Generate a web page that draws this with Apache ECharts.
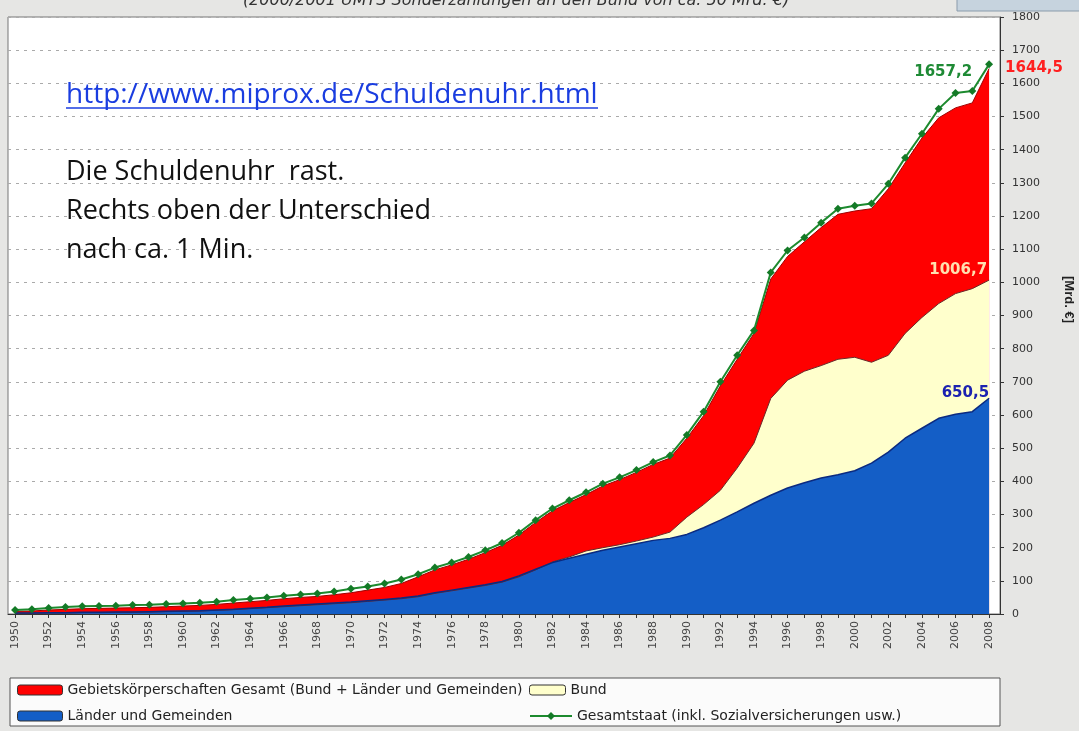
<!DOCTYPE html>
<html>
<head>
<meta charset="UTF-8">
<title>Schuldenuhr</title>
<script src="https://cdn.jsdelivr.net/npm/echarts@6/dist/echarts.min.js"></script>
<style>
  html, body { margin: 0; padding: 0; background: #e6e6e4; }
  #chart { width: 1079px; height: 731px; }
</style>
</head>
<body>
<div id="chart"></div>
<script type="text/javascript">
    // Jahre 1950 - 2008
    var years = [];
    for (var y = 1950; y <= 2008; y++) { years.push(y); }
    var labelYears = years.filter(function (y) { return y % 2 === 0; });

    // Gesamtstaat (inkl. Sozialversicherungen), Mrd. €
    var gesamtstaat = [12, 14, 18, 21, 23, 24, 25, 27, 28, 30,
        32, 34, 37, 42, 46, 50, 55, 59, 62, 68,
        76, 83, 92, 104, 120, 140, 155, 172, 192, 214,
        245, 283, 318, 343, 367, 393, 412, 434, 458, 478,
        540, 610, 700, 780, 855, 1030, 1096, 1135, 1180, 1222,
        1231, 1238, 1297, 1376, 1448, 1523, 1571, 1577, 1657.2];

    // Gebietskörperschaften Gesamt (Bund + Länder und Gemeinden)
    var gebiet = [8, 9, 12, 14, 16, 17, 18, 19, 20, 22,
        24, 26, 29, 33, 37, 41, 46, 50, 53, 58,
        64, 72, 80, 92, 112, 133, 148, 165, 185, 207,
        238, 276, 311, 336, 360, 386, 405, 427, 451, 470,
        530, 598, 688, 768, 846, 1010, 1078, 1122, 1165, 1205,
        1215, 1222, 1282, 1360, 1435, 1496, 1526, 1541, 1644.5];

    // Bund
    var bund = [2, 2, 3, 3, 4, 4, 5, 5, 6, 7,
        8, 9, 11, 13, 16, 19, 22, 25, 28, 31,
        34, 38, 42, 46, 52, 62, 70, 78, 86, 96,
        112, 133, 157, 172, 190, 200, 209, 220, 232, 247,
        292, 330, 373, 440, 515, 650, 705, 732, 749, 768,
        774, 759, 780, 846, 894, 936, 966, 981, 1006.7];

    // Länder und Gemeinden
    var laender = [3, 3, 4, 4, 5, 5, 6, 6, 7, 8,
        9, 10, 12, 14, 17, 20, 24, 27, 30, 33,
        36, 40, 44, 48, 54, 64, 72, 80, 88, 98,
        115, 135, 155, 168, 180, 192, 202, 212, 222, 228,
        240, 260, 283, 308, 334, 358, 380, 396, 410, 420,
        432, 455, 488, 530, 560, 590, 602, 610, 650.5];

    var nGebiet = 'Gebietskörperschaften Gesamt (Bund + Länder und Gemeinden)';
    var nBund = 'Bund';
    var nLaender = 'Länder und Gemeinden';
    var nGesamt = 'Gesamtstaat (inkl. Sozialversicherungen usw.)';

    function pairs(arr) {
        return years.map(function (y, i) { return [y, arr[i]]; });
    }
    function komma(p) {
        return String(p.value[1]).replace('.', ',');
    }
    function plain(v) { return String(v); }
    function endLbl(color, align, offset) {
        return {
            show: true, formatter: komma, color: color, fontWeight: 'bold',
            fontSize: 15, fontFamily: 'DejaVu Sans', align: align,
            distance: 0, offset: offset
        };
    }

    var legendText = { fontSize: 14, color: '#222', fontFamily: 'DejaVu Sans' };

    var option = {
        backgroundColor: '#e6e6e4',
        animation: false,
        textStyle: { fontFamily: 'Liberation Sans' },
        grid: {
            show: true, left: 8, top: 17, right: 79, bottom: 117,
            outerBoundsMode: 'none', containLabel: false,
            backgroundColor: '#ffffff', borderColor: '#777', borderWidth: 1
        },
        legend: [
            { data: [nGebiet], left: 17, top: 683, padding: 0, itemWidth: 45, itemHeight: 10,
              icon: 'roundRect', itemStyle: { borderColor: '#333', borderWidth: 1 },
              textStyle: legendText, selectedMode: false },
            { data: [nBund], left: 529, top: 683, padding: 0, itemWidth: 36, itemHeight: 10,
              icon: 'roundRect', itemStyle: { borderColor: '#333', borderWidth: 1 },
              textStyle: legendText, selectedMode: false },
            { data: [nLaender], left: 17, top: 709, padding: 0, itemWidth: 45, itemHeight: 10,
              icon: 'roundRect', itemStyle: { borderColor: '#333', borderWidth: 1 },
              textStyle: legendText, selectedMode: false },
            { data: [nGesamt], left: 529, top: 709, padding: 0, itemWidth: 42, itemHeight: 10,
              textStyle: legendText, selectedMode: false }
        ],
        xAxis: {
            type: 'value', min: 1949.58, max: 2008.65,
            axisLine: { lineStyle: { color: '#333' } },
            axisTick: { show: true, customValues: years, length: 4, lineStyle: { color: '#333' } },
            axisLabel: { customValues: labelYears, formatter: plain, rotate: 90, fontSize: 11,
                color: '#444', margin: 7, fontFamily: 'DejaVu Sans' },
            splitLine: { show: false }
        },
        yAxis: {
            type: 'value', position: 'right', min: 0, max: 1800, interval: 100,
            axisLine: { show: true, lineStyle: { color: '#333' } },
            axisTick: { show: true, length: 4, lineStyle: { color: '#333' } },
            axisLabel: { formatter: plain, color: '#333', fontSize: 11,
                fontFamily: 'DejaVu Sans', margin: 12 },
            splitLine: { lineStyle: { type: [3, 5], color: '#aaa' } },
            name: '[Mrd. €]', nameLocation: 'middle', nameRotate: -90, nameGap: 62,
            nameTextStyle: { fontWeight: 'bold', fontSize: 13, color: '#222',
                padding: [0, 32, 0, 0] }
        },
        series: [
            {
                name: nGebiet, type: 'line', data: pairs(gebiet), showSymbol: false,
                itemStyle: { color: '#ff0000' },
                lineStyle: { width: 1, color: '#a00000' },
                areaStyle: { color: '#ff0000', opacity: 1 },
                endLabel: endLbl('#ff2020', 'left', [16, 0])
            },
            {
                name: nBund, type: 'line', data: pairs(bund), showSymbol: false,
                itemStyle: { color: '#ffffcc' },
                lineStyle: { width: 1, color: '#6a2a2a' },
                areaStyle: { color: '#ffffcc', opacity: 1 },
                endLabel: endLbl('#ffe0b0', 'right', [-2, -10])
            },
            {
                name: nLaender, type: 'line', data: pairs(laender), showSymbol: false,
                itemStyle: { color: '#145ec6' },
                lineStyle: { width: 1.5, color: '#0b2a80' },
                areaStyle: { color: '#145ec6', opacity: 1 },
                endLabel: endLbl('#1c22b0', 'right', [0, -5])
            },
            {
                name: nGesamt, type: 'line', data: pairs(gesamtstaat),
                symbol: 'diamond', symbolSize: 8, showAllSymbol: true,
                itemStyle: { color: '#137a26' },
                lineStyle: { width: 2, color: '#1c8a2e' },
                endLabel: endLbl('#1e8a35', 'right', [-17, 8])
            }
        ],
        graphic: [
            // abgeschnittene Überschrift oben
            { type: 'text', x: 516, y: -7, z: 10,
              style: { text: '(2000/2001 UMTS Sonderzahlungen an den Bund von ca. 50 Mrd. €)',
                  fill: '#333', font: 'italic 16px "DejaVu Sans"', textAlign: 'center' } },
            { type: 'rect', shape: { x: 957, y: -1, width: 123, height: 12 }, z: 10,
              style: { fill: '#c6d3de', stroke: '#8a9bab', lineWidth: 1 } },
            // Legendenrahmen
            { type: 'rect', shape: { x: 10, y: 678, width: 990, height: 48 }, z: 0,
              style: { fill: '#fbfbfb', stroke: '#555', lineWidth: 1 } },
            // Folientext
            { type: 'text', x: 66, y: 81, z: 10,
              style: { text: 'http://www.miprox.de/Schuldenuhr.html', fill: '#1a3de0',
                  font: '28px "Open Sans"' } },
            { type: 'line', shape: { x1: 66, y1: 108, x2: 598, y2: 108 }, z: 10,
              style: { stroke: '#1a3de0', lineWidth: 1.5 } },
            { type: 'text', x: 66, y: 159, z: 10,
              style: { text: 'Die Schuldenuhr  rast.', fill: '#111', font: '27px "Open Sans"' } },
            { type: 'text', x: 66, y: 198, z: 10,
              style: { text: 'Rechts oben der Unterschied', fill: '#111', font: '27px "Open Sans"' } },
            { type: 'text', x: 66, y: 237, z: 10,
              style: { text: 'nach ca. 1 Min.', fill: '#111', font: '27px "Open Sans"' } }
        ]
    };

    var myChart = echarts.init(document.getElementById('chart'));
    myChart.setOption(option);
</script>
</body>
</html>
